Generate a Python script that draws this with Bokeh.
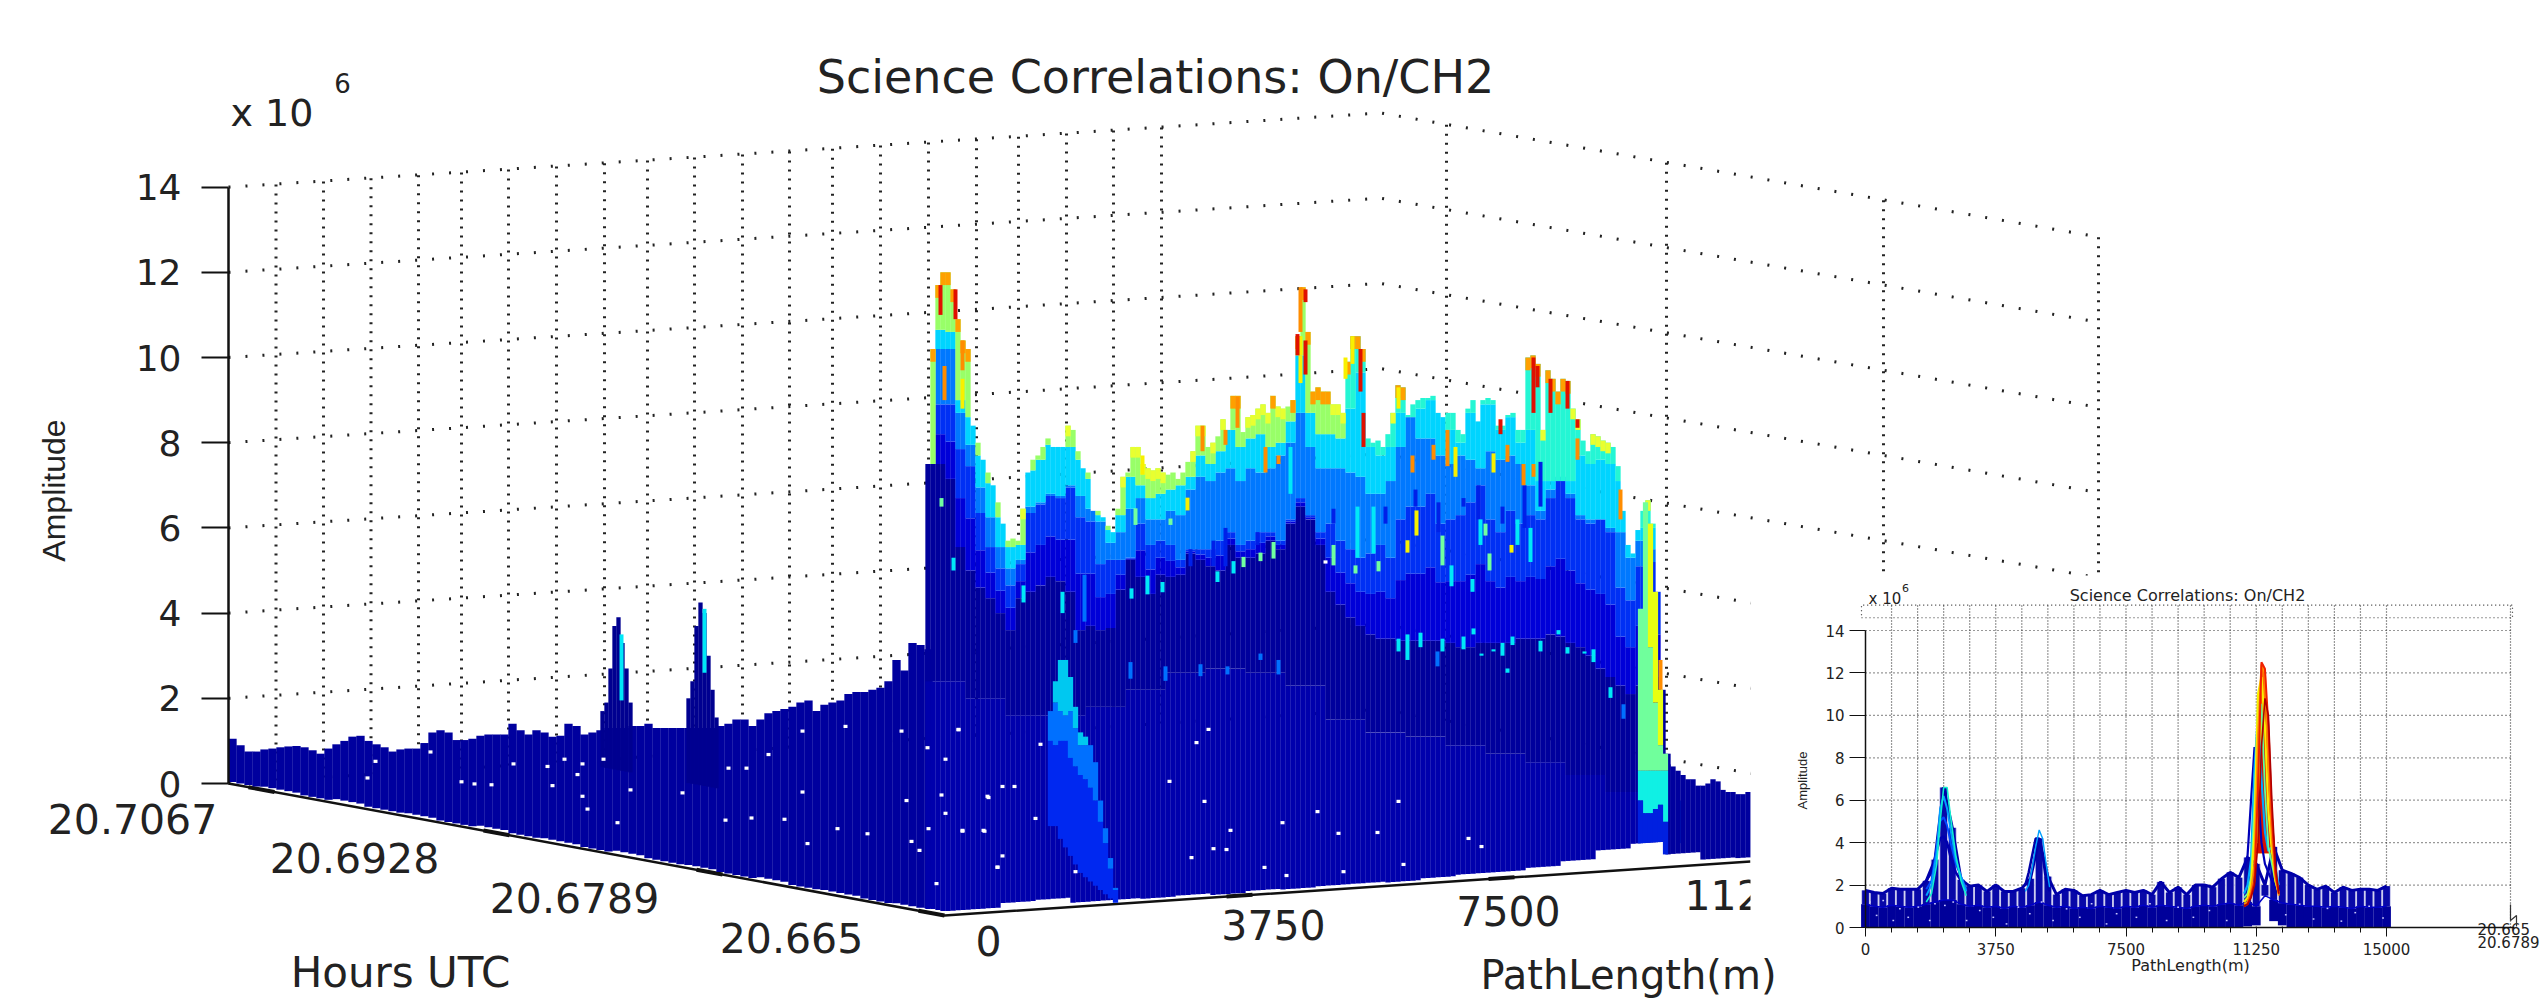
import numpy as np
from bokeh.plotting import figure
from bokeh.models import Range1d, LinearAxis, FixedTicker
from bokeh.core.properties import value
from bokeh.embed import file_html
from bokeh.resources import INLINE

# ---------- main panel: silhouettes read against the left amplitude axis (x 10^6)
amp_ticks = [0, 2, 4, 6, 8, 10, 12, 14]
hour_labels = ["20.7067", "20.6928", "20.6789", "20.665"]
path_labels = ["0", "3750", "7500", "11250"]

left_top = [1.05,0.9,0.75,0.75,0.8,0.82,0.85,0.87,0.88,0.85,0.78,0.7,0.82,0.92,1.0,1.1,1.12,1.0,0.92,0.85,0.75,0.8,0.82,0.82,0.95,1.2,1.25,1.2,1.02,1.02,1.05,1.12,1.15,1.15,1.15,1.4,1.25,1.15,1.25,1.2,1.1,1.12,1.4,1.35,1.15,1.2,1.25,1.3,1.3,1.3,1.35,1.35,1.4,1.3,1.3,1.3,1.3,1.3,1.3,1.3,1.3,1.35,1.4,1.5,1.5,1.35,1.5,1.65,1.7,1.75,1.8,1.9,1.95,1.7,1.85,1.9,1.95,2.1,2.15,2.15,2.2,2.25,2.4,2.9,2.65,3.3,3.25,3.15]
spike1_top = [1.7,1.9,2.7,3.7,3.9,3.3,2.7,1.9]
spike2_top = [2.0,2.4,3.7,4.25,4.0,3.0,2.2,1.55]

ridge_top = [7.5,10.2,11.7,12.0,12.0,11.6,10.9,10.4,10.2,8.4,8.0,7.6,7.3,7.0,6.6,6.1,5.7,5.75,5.7,6.45,7.3,7.6,7.7,7.9,8.1,7.9,7.9,7.9,8.4,8.3,7.8,7.4,7.3,6.4,6.4,6.25,6.05,5.9,6.45,7.2,7.3,7.9,7.9,7.5,7.4,7.35,7.4,7.3,7.25,7.3,7.15,7.3,7.55,7.8,8.4,8.4,7.9,8.0,8.15,8.55,8.3,9.1,9.1,8.25,8.6,8.65,8.8,8.9,8.7,9.1,8.85,8.8,8.85,9.0,10.5,11.65,10.6,9.2,9.3,9.2,9.2,8.9,8.9,8.7,9.9,10.5,10.5,10.2,8.1,8.0,8.05,7.9,8.2,8.7,9.35,9.3,8.65,8.9,9.0,9.05,9.05,9.1,8.7,8.6,8.7,8.7,8.3,8.2,8.8,9.0,8.5,9.0,9.05,9.0,8.4,8.4,8.65,8.7,8.3,8.3,10.0,10.05,9.85,8.3,9.7,9.5,9.2,9.5,9.45,8.8,8.55,8.05,7.8,8.2,8.15,8.05,8.0,7.9,7.45,6.4,5.6,5.4,5.95,6.4,6.65,6.1,4.5,2.2,0.7]

right_top = [0.45,0.4,0.3,0.2,0.1,0.1,-0.05,-0.05,0.0,0.1,0.05,-0.15,-0.2,-0.2,-0.25,-0.25,-0.2,-0.2]

band_navy = [7.5,7.5,7.15,5.55,5.0,4.6,4.35,4.0,3.6,4.35,4.5,4.65,4.85,4.75,4.5,3.6,3.7,3.6,3.65,4.55,5.25,4.85,4.45,4.9,4.85,4.9,5.4,5.25,5.1,5.0,5.6,5.3,5.3,5.4,5.7,5.5,6.1,6.5,6.2,5.6,4.5,4.2,3.9,3.7,3.5,3.4,3.4,3.35,3.35,3.35,3.35,3.35,3.3,3.2,3.2,3.3,3.3,3.3,3.3,3.4,3.4,3.4,3.5,3.45,3.3,3.2,3.0,2.7,2.5,2.3,2.1,2.3,2.5]
band_blue = [7.5,8.9,8.9,7.85,7.45,6.35,5.55,5.05,4.65,5.15,6.35,6.55,6.75,6.7,6.95,6.25,6.15,5.15,5.25,5.25,5.3,6.1,5.6,5.7,5.6,5.25,5.5,5.5,5.5,5.7,5.9,5.6,5.7,5.9,5.9,5.7,6.2,6.7,6.3,5.9,6.1,5.7,5.5,5.3,5.4,5.6,5.3,6.2,6.5,6.5,6.8,6.1,6.2,6.3,6.6,7.0,6.2,5.9,6.4,6.1,6.3,6.2,6.7,7.1,6.7,6.2,6.1,6.2,5.9,4.6,4.3,5.1,5.2]
band_azure = [7.5,10.2,10.2,8.7,7.95,6.95,6.25,5.55,5.05,5.25,6.5,6.6,6.8,6.75,7.0,6.75,6.45,6.15,5.65,5.9,6.45,6.7,6.2,6.2,6.4,6.3,6.9,7.2,7.1,7.3,7.4,7.1,7.4,7.3,7.4,7.7,8.0,8.7,7.9,7.4,7.4,7.4,7.3,7.2,6.8,6.8,7.1,7.9,8.6,8.1,8.1,7.7,7.5,7.7,7.6,7.4,7.8,7.6,7.7,7.5,7.0,6.4,6.9,7.2,6.8,6.3,6.2,6.2,6.0,5.9,5.3,5.7,5.5]
band_cyan = [7.5,10.65,10.6,9.0,8.6,7.7,7.05,6.25,5.55,5.6,7.35,7.6,7.95,7.9,7.9,7.6,7.15,6.3,5.95,6.3,7.2,7.0,6.7,6.8,6.9,7.0,7.2,7.7,7.5,7.8,8.3,7.9,8.1,8.2,7.9,8.0,8.5,10.05,8.7,8.2,8.2,8.1,8.8,9.65,7.9,7.7,7.9,8.7,8.6,8.8,9.0,8.7,8.3,8.0,8.7,8.9,8.9,8.3,8.6,8.0,8.3,7.1,7.1,7.1,7.1,7.7,7.5,7.6,7.5,7.1,5.9,6.0,6.0]
band_base = [2.4,2.0,1.6,1.6,1.8,2.2,2.6,2.7,2.6,2.3,1.5,1.2,1.1,0.9,0.7,0.5,0.2,-0.2,-0.6]

near_top = [4.1,6.6,6.1,4.5,2.2,0.7]
near_yellow_bottom = [4.1,6.6,3.2,1.9,0.9,0.7]
near_green_bottom = [0.3,0.3,0.3,0.3,0.3,0.3]
near_cyan_bottom = [-0.4,-0.7,-0.7,-0.6,-0.5,-0.9]

lump_top = [1.7,2.4,2.9,2.9,2.5,1.8,1.2,1.1,0.9,0.5,-0.4,-1.05,-1.75,-2.45]
lump_cyan_bottom = [1.7,1.9,1.7,1.6,1.7,1.3,0.9,0.9,0.9,0.5,-0.4,-1.05,-1.75,-2.45]
lump_azure_bottom = [1.0,0.9,1.0,1.0,0.6,0.4,0.2,0.1,-0.1,-0.4,-0.9,-1.4,-2.0,-2.5]
lump_blue_bottom = [-1.0,-1.0,-1.3,-1.5,-1.7,-1.9,-2.1,-2.2,-2.3,-2.4,-2.5,-2.6,-2.7,-2.8]

front_gap = [0.05,0.08,0.05,0.1,0.06,0.08,0.05,0.1,0.06,0.08,0.05,0.1,0.06,0.08,0.05,0.1,0.06,0.08,0.05,0.08,0.1,0.1,0.2,0.22,0.1,0.1,0.08,0.1,0.06,0.1,0.08,0.1,0.1,0.08,0.12,0.15,0.15,0.2,0.3,0.5,0.6,0.3,0.12,0.1]

speck_x = [802,845,901,958,927,945,768,564,582,603,513,547,577,728,746,367,461,474,491,552,630,682,582,802,941,906,987,587,945,725,751,784,617,837,867,928,962,984,807,911,919,997,936,430,375,958,1040,1002,1014,988,1035,962,983,1002,997,1075,1325,1208,1196,1169,1204,1282,1230,1213,1226,1191,1264,1286,1317,1398,1338,1377,1468,1481,1403,1343]
speck_amp = [1.23,1.34,1.23,1.26,0.84,0.57,0.68,0.57,0.46,0.57,0.46,0.4,0.21,0.36,0.36,0.13,0.04,-0.01,-0.03,-0.05,-0.15,-0.22,-0.3,-0.2,-0.27,-0.4,-0.3,-0.6,-0.7,-0.86,-0.81,-0.84,-0.92,-1.06,-1.18,-1.06,-1.12,-1.12,-1.41,-1.36,-1.57,-1.96,-2.35,0.74,0.52,1.27,0.92,-0.07,-0.07,-0.33,-0.82,-1.1,-1.1,-1.7,-1.97,-2.07,5.2,1.27,0.96,0.05,-0.42,-0.92,-1.1,-1.53,-1.55,-1.74,-1.97,-2.16,-0.66,-0.42,-1.17,-1.15,-1.29,-1.48,-1.9,-2.07]

red_x = [940,955,1297,1305,1305,1360,1363,1533,1550,1567,1577,1537,1500]
red_lo = [11.0,10.9,10.05,11.3,9.6,9.2,7.9,8.7,8.7,8.8,8.35,9.3,8.2]
red_hi = [11.7,11.6,10.55,11.6,10.4,10.2,8.7,10.0,9.5,9.45,8.55,9.8,8.55]
orange_x = [962,944,1300,1202,1225,1237,1265,1278,1412,1433,1447,1507,1523,1533,1577,1620,1660]
orange_lo = [9.7,9.0,10.6,7.8,7.95,8.35,7.3,7.5,7.3,7.6,7.45,7.55,7.0,7.2,7.6,6.2,2.2]
orange_hi = [10.4,9.8,11.65,8.4,8.3,9.08,7.9,7.7,7.7,7.95,8.3,7.95,7.5,7.5,8.1,6.9,2.9]
yellow_x = [962,1300,1352,1187,1142,1416,1455,1493,1407,1511,1300,1398,1345]
yellow_lo = [8.8,9.4,9.85,6.41,7.25,5.82,7.2,7.3,5.42,5.42,10.05,8.8,9.5]
yellow_hi = [9.5,10.05,10.5,6.71,7.7,6.41,7.9,7.75,5.71,5.6,10.5,9.3,10.0]
cyan_x = [1131,1147,1162,1217,1233,1451,1472,1398,1407,1420,1442,1463,1473,1481,1493,1502,1512,1507,1540,1558,1567,1584,1593,1610,953,1023,1062,621,704,1290,1373,1517,1530,1480,1357]
cyan_lo = [4.34,4.44,4.49,4.73,4.93,4.63,4.5,3.1,2.9,3.2,3.1,3.15,3.5,3.0,3.1,3.0,3.25,2.6,3.1,3.5,3.05,3.05,2.85,2.01,5.0,4.25,4.0,1.95,2.6,6.8,5.4,5.6,5.2,5.6,5.3]
cyan_hi = [4.58,4.88,4.73,4.98,5.22,5.12,4.8,3.4,3.5,3.54,3.4,3.45,3.64,3.05,3.15,3.3,3.45,2.7,3.35,3.6,3.2,3.1,3.15,2.26,5.3,4.65,4.5,3.5,4.1,7.9,6.5,6.2,6.0,6.2,6.5]
green_x = [1333,1355,1378,1442,1489,1243,1260,1273,941,1485,1170,1135]
green_lo = [5.12,4.93,4.98,5.12,5.0,5.08,5.22,5.28,6.5,5.82,6.07,6.07]
green_hi = [5.6,5.12,5.22,5.82,5.4,5.32,5.42,5.67,6.7,6.1,6.22,6.46]
azure_x = [1130,1165,1200,1227,1260,1278,1084,1075,1437,1623,1680]
azure_lo = [2.46,2.41,2.52,2.56,2.9,2.56,3.8,3.3,2.75,1.52,-1.4]
azure_hi = [2.85,2.75,2.8,2.75,3.05,2.9,4.9,3.6,3.1,1.86,-0.4]
deep_x = [1415,1463,1478,1502,1524,1333,1385,1438,1540,1225,1213,1190,1257]
deep_lo = [6.5,6.5,6.2,6.1,6.0,6.1,6.1,5.9,6.5,5.1,5.1,5.1,5.6]
deep_hi = [6.9,6.7,7.0,6.5,7.0,6.45,6.5,6.6,7.55,6.0,5.7,5.5,5.9]

# ---------- inset: profile against PathLength
inset_ticks = [0, 3750, 7500, 11250, 15000]
inset_top = [1.75,1.65,1.6,1.85,1.8,1.8,1.8,2.2,3.2,6.6,4.7,2.25,1.95,2.0,1.7,2.0,1.7,1.7,1.85,2.3,4.2,2.4,1.55,1.8,1.75,1.5,1.55,1.75,1.55,1.65,1.75,1.65,1.75,1.55,2.15,1.65,1.9,1.55,2.0,2.0,1.9,2.3,2.6,2.35,3.3,3.0,2.0,3.8,2.7,2.55,2.35,2.0,1.8,1.95,1.65,1.9,1.75,1.8,1.8,1.75,1.95]
inset_low = [1.1,1.0,0.95,1.05,1.0,0.95,1.0,1.1,1.2,1.3,1.3,1.1,1.0,1.05,0.95,1.0,0.9,1.0,0.95,1.05,1.2,1.05,0.95,1.0,0.9,0.95,0.9,1.0,0.95,0.9,1.0,0.95,1.05,0.95,1.05,1.0,0.95,0.9,1.0,1.05,1.0,1.1,1.15,1.05,1.2,1.0,1.5,1.3,1.15,1.1,1.05,1.0,1.0,0.95,1.0,0.95,0.9,1.0,0.95,0.95,1.0]
inset_bottom = [0]*44 + [0.05,0.1,1.5,0.3,0.1] + [0]*12
inset_speck_path = [125,320,510,800,990,1230,1520,1850,2000,2285,2525,2910,3290,3680,4060,4400,4730,5070,5400,5790,6170,6510,6940,7230,7800,8190,8670,9000,9440,9900,10400,12100,12500,12900,13300,13700,14100,14500,14900]
inset_speck_amp = [1.2,0.57,1.27,0.33,0.88,0.48,0.96,0.33,1.12,1.04,1.2,0.33,0.8,0.48,0.17,0.96,0.65,1.2,0.33,0.88,0.48,1.12,0.17,0.65,0.48,1.12,0.33,0.96,0.48,0.8,0.33,0.6,1.1,0.4,0.9,0.3,0.7,1.0,0.45]
p1_path = [1750,1900,2050,2150,2250,2350,2450,2600,2750,2900]
p1_navy = [2.2,2.6,3.6,4.2,4.3,4.0,3.3,2.6,2.2,1.8]
p1_blue = [1.8,2.2,3.8,5.0,5.2,4.8,4.0,3.0,2.4,1.8]
p1_azure = [1.5,2.0,3.5,5.6,6.2,5.6,4.6,3.2,2.4,1.7]
p1_cyan = [1.2,1.6,3.0,5.0,6.6,6.6,5.2,3.4,2.2,1.5]
p2_path = [4600,4700,4800,4900,5000,5100,5200,5300]
p2_navy = [2.0,2.6,3.4,4.2,4.2,3.4,2.2,1.7]
p2_azure = [1.7,2.0,2.8,3.8,4.6,4.2,3.0,1.9]
p3_path = [10900,11000,11100,11200,11300,11400,11500,11600,11700,11800,11900]
p3_navy = [2.8,3.4,6.0,8.5,6.5,4.0,3.0,2.6,2.2,1.9,1.7]
p3_azure = [1.6,2.0,3.2,7.5,10.0,7.0,4.5,3.6,3.8,2.8,2.0]
p3_green = [1.4,1.6,2.4,6.0,10.6,10.5,6.5,3.8,3.0,2.2,1.6]
p3_yellow = [1.2,1.4,2.0,4.5,11.0,11.8,9.5,5.5,3.6,2.2,1.6]
p3_orange = [1.1,1.2,1.7,3.0,9.0,12.4,12.0,7.5,4.2,2.4,1.5]
p3_red = [1.0,1.1,1.5,2.2,6.5,12.5,12.2,9.5,5.2,2.6,1.6]
p3_dark = [1.0,1.1,1.4,2.0,4.0,8.5,10.8,10.0,6.0,3.0,1.6]

# ---------- geometry of the page
W, H = 2545, 1000
PX = 42.6
def A(py):
    return (783 - py) / PX

p = figure(width=W, height=H, output_backend="svg", toolbar_location=None,
           x_axis_location=None, y_axis_location=None,
           x_range=Range1d(0, W), y_range=Range1d(A(H), A(0)),
           min_border=0, min_border_left=0, min_border_right=0, min_border_top=0, min_border_bottom=0,
           outline_line_color=None, background_fill_color="white")
p.grid.visible = False

K = 15000 / 521.0
IY = 297 / 14.0
p.extra_x_ranges = {"ix": Range1d((0 - 1865) * K, (W - 1865) * K)}
p.extra_y_ranges = {"iy": Range1d((927 - H) / IY, 927 / IY)}

INK = "#222222"
def txt(x, py, s, size, font="DejaVu Sans", align="center", angle=0, color=INK):
    p.text(x=[x], y=[A(py)], text=[s], text_font=value(font), text_font_size=value(size),
           text_align=align, text_baseline="middle", angle=angle, text_color=color)

# walls
def wall_y(a, x):
    return np.interp(x, [228, 1380, 2098], [a, a + 1.74, a - 1.17])

grid_x = [275.5,323,370.5,418,461,508,556,604,647,694,742,789,832,880,928,976,1018,1066,1113,1161,1446,1666,1883,2098]
p.multi_line(xs=[[228, 1380, 2098] for a in amp_ticks],
             ys=[[a, a + 1.74, a - 1.17] for a in amp_ticks],
             line_color="#222222", line_width=3, line_dash="2 15")
p.multi_line(xs=[[x, x] for x in grid_x],
             ys=[[float(wall_y(0, x)), float(wall_y(14, x))] for x in grid_x],
             line_color="#222222", line_width=3, line_dash="2 7")

# floor
def floor(x):
    return np.interp(x, [228, 944, 1750], [0, A(915), A(861)])

p.line(x=[228, 944, 1750], y=[0, A(915), A(861)], line_color="#111111", line_width=2.5)
tick_x = [260, 495, 708, 930, 1238, 1500]
p.multi_line(xs=[[x - 12, x + 14] for x in tick_x],
             ys=[[float(floor(x - 12)), float(floor(x + 14))] for x in tick_x],
             line_color="#111111", line_width=4)

def col_gap(x):
    i = np.clip(((np.asarray(x) - 228) // 35).astype(int), 0, len(front_gap) - 1)
    return np.asarray(front_gap)[i]

def bars(x, lo, hi, color, width=5.3):
    x = np.asarray(x, dtype=float)
    lo = np.asarray(lo, dtype=float)
    hi = np.asarray(hi, dtype=float)
    m = hi > lo
    p.vbar(x=x[m], width=width, bottom=lo[m], top=hi[m], fill_color=color, line_color=None)

# left run of the surface
lx = 228 + 4 + 8 * np.arange(len(left_top))
bars(lx, floor(lx) + col_gap(lx), left_top, "#00009e", width=8.3)
s1x = 602 + 4 * np.arange(len(spike1_top))
s2x = 688 + 4 * np.arange(len(spike2_top))
bars(s1x, floor(s1x) + 2.0, spike1_top, "#000090", width=4.3)
bars(s2x, floor(s2x) + 2.0, spike2_top, "#000090", width=4.3)

# the long ridge
rx = 925 + 2.5 + 5 * np.arange(len(ridge_top))
rt = np.asarray(ridge_top)
band = lambda arr: np.minimum(np.asarray(arr)[np.minimum(np.arange(len(rt)) // 2, len(arr) - 1)], rt)
base = np.minimum(np.asarray(band_base)[np.minimum(np.arange(len(rt)) // 8, len(band_base) - 1)], rt)
bn, bb, ba, bc = band(band_navy), band(band_blue), band(band_azure), band(band_cyan)
mid = (bn + bb) / 2
bot = floor(rx) + col_gap(rx)
bars(rx, bot, base, "#0000ac")
bars(rx, base, bn, "#00009c")
bars(rx, bn, mid, "#0000d8")
bars(rx, mid, bb, "#0030f4")
bars(rx, bb, ba, "#0078ff")
bars(rx, ba, bc, "#00d4ff")
left_side = rx < 1345
bars(rx[left_side], bc[left_side], rt[left_side], "#98ff68")
bars(rx[~left_side], bc[~left_side], rt[~left_side], "#24f6d4")
# tips of the columns
tip_on = rt > bc + 0.4
tips_y = tip_on & (rt < 9.0)
tips_o = tip_on & (rt >= 9.0)
bars(rx[tips_y], rt[tips_y] - 0.25, rt[tips_y], "#e8ff30")
bars(rx[tips_o], rt[tips_o] - 0.3, rt[tips_o], "#ffa000")

# streaks inside the ridge
for xs_, lo_, hi_, c_ in [(azure_x, azure_lo, azure_hi, "#0070ff"),
                          (deep_x, deep_lo, deep_hi, "#0020e8"),
                          (cyan_x, cyan_lo, cyan_hi, "#00e8f8"),
                          (green_x, green_lo, green_hi, "#70ffa0"),
                          (yellow_x, yellow_lo, yellow_hi, "#f8f000"),
                          (orange_x, orange_lo, orange_hi, "#ff8c00"),
                          (red_x, red_lo, red_hi, "#e01000")]:
    bars(xs_, lo_, hi_, c_, width=4)

# right run behind the near end
nx = 1667.5 + 5 * np.arange(len(right_top))
bars(nx, floor(nx) + col_gap(nx), right_top, "#00009e")

# near end of the ridge
wx = 1640 + 5 * np.arange(len(near_top))
bars(wx, near_cyan_bottom, near_green_bottom, "#10f0e4", width=5.2)
bars(wx, near_green_bottom, near_yellow_bottom, "#70ff9c", width=5.2)
bars(wx, near_yellow_bottom, near_top, "#e8ff10", width=5.2)
p.vbar(x=wx, width=5.2, bottom=floor(wx) + col_gap(wx), top=near_cyan_bottom, fill_color="#0020e0", line_color=None)

# front lump
mx = 1050 + 5 * np.arange(len(lump_top))
bars(mx, lump_blue_bottom, lump_azure_bottom, "#0028f0")
bars(mx, lump_azure_bottom, lump_cyan_bottom, "#0070ff")
bars(mx, lump_cyan_bottom, lump_top, "#00c8f0")

# white pin holes
p.rect(x=speck_x, y=speck_amp, width=4, height=3.2 / PX, fill_color="white", line_color=None)

# main amplitude axis
main_axis = LinearAxis(fixed_location=228, bounds=(0, 14), ticker=FixedTicker(ticks=amp_ticks),
                       axis_line_color="#111111", axis_line_width=2.5,
                       major_tick_line_color="#111111", major_tick_line_width=2,
                       major_tick_out=27, major_tick_in=0, minor_tick_out=0, minor_tick_in=0,
                       major_label_standoff=20, major_label_text_font="DejaVu Sans",
                       major_label_text_font_size="36px", major_label_text_color=INK)
p.add_layout(main_axis, "left")

txt(132, 818, hour_labels[0], "41px")
txt(354, 857, hour_labels[1], "41px")
txt(574, 897, hour_labels[2], "41px")
txt(791, 937, hour_labels[3], "41px")
txt(400, 972, "Hours UTC", "42px")
txt(988, 940, path_labels[0], "41px")
txt(1273, 924, path_labels[1], "41px")
txt(1508, 910, path_labels[2], "41px")
txt(1684, 894, path_labels[3], "41px", align="left")
txt(1155, 76, "Science Correlations: On/CH2", "46px")
txt(230, 112, "x 10", "38px", align="left")
txt(342, 82, "6", "26px")
txt(53, 490, "Amplitude", "32px", font="Liberation Sans", angle=np.pi / 2)

# inset page
p.quad(left=[1750], right=[W], top=[A(575)], bottom=[A(955)], fill_color="white", line_color=None)
txt(1628, 974, "PathLength(m)", "40px")

ir = dict(x_range_name="ix", y_range_name="iy")
ip = 250 * np.arange(len(inset_top))
gv = [750 * i for i in range(1, 21)] + [(2510 - 1865) * K]
p.multi_line(xs=[[x, x] for x in gv], ys=[[0, 15.2] for x in gv], line_color="#333333",
             line_width=1.2, line_dash="1 2", **ir)
gh = amp_ticks[1:]
p.multi_line(xs=[[0, (2512 - 1865) * K] for a in gh], ys=[[a, a] for a in gh], line_color="#333333",
             line_width=1.2, line_dash="1 3", **ir)
bx = [(1861 - 1865) * K, (2512 - 1865) * K, (2512 - 1865) * K, (1861 - 1865) * K, (1861 - 1865) * K]
p.line(x=bx, y=[14.6, 14.6, 15.2, 15.2, 14.6], line_color="#333333", line_width=1.2, line_dash="1 3", **ir)

low = np.maximum(inset_low, inset_bottom)
p.vbar(x=ip, width=250, bottom=low, top=inset_top, fill_color="#c4c4ec", line_color=None, **ir)
p.vbar(x=ip, width=195, bottom=low, top=inset_top, fill_color="#0808a8", line_color=None, **ir)
p.vbar(x=ip, width=254, bottom=inset_bottom, top=low, fill_color="#00009a", line_color=None, **ir)
p.line(x=ip, y=inset_top, line_color="#0000a8", line_width=3, **ir)
p.line(x=ip, y=inset_low, line_color="#0000c8", line_width=1.5, **ir)
p.rect(x=inset_speck_path, y=inset_speck_amp, width=50, height=0.07, fill_color="#c8c8ff", line_color=None, **ir)

p.varea(x=p3_path, y1=[3.5] * len(p3_path), y2=np.maximum(p3_orange, 3.5), fill_color="#ff7000", **ir)
p.varea(x=p3_path, y1=[3.5] * len(p3_path), y2=np.maximum(p3_green, 3.5), fill_color="#f8e800", **ir)
p.varea(x=p3_path, y1=[3.5] * len(p3_path), y2=np.maximum(p3_dark, 3.5), fill_color="#d81000", **ir)
for xs_, ys_, c_, lw_ in [(p1_path, p1_navy, "#0000b0", 2.5), (p1_path, p1_blue, "#0048ff", 2),
                          (p1_path, p1_azure, "#00a0ff", 2), (p1_path, p1_cyan, "#10f0d0", 1.6),
                          (p2_path, p2_navy, "#0000a8", 2.5), (p2_path, p2_azure, "#00a0ff", 1.4),
                          (p3_path, p3_navy, "#0000b8", 2.2), (p3_path, p3_azure, "#00a8ff", 2.2),
                          (p3_path, p3_green, "#60ffa0", 1.8), (p3_path, p3_yellow, "#f8f000", 2.2),
                          (p3_path, p3_orange, "#ff9000", 2), (p3_path, p3_red, "#f02000", 2),
                          (p3_path, p3_dark, "#b00000", 1.6)]:
    p.line(x=xs_, y=ys_, line_color=c_, line_width=lw_, **ir)

ax_common = dict(x_range_name="ix", y_range_name="iy", axis_line_color="#111111", axis_line_width=1.5,
                 major_tick_line_color="#111111", minor_tick_line_color="#111111",
                 major_label_text_font="DejaVu Sans", major_label_text_font_size="15px",
                 major_label_text_color=INK, major_tick_in=0, minor_tick_in=0)
ixa = LinearAxis(fixed_location=0, bounds=(0, (2514 - 1865) * K),
                 ticker=FixedTicker(ticks=inset_ticks, minor_ticks=[750 * i for i in range(1, 21)]),
                 major_tick_out=9, minor_tick_out=5, major_label_standoff=6, **ax_common)
p.add_layout(ixa, "below")
iya = LinearAxis(fixed_location=0, bounds=(0, 14), ticker=FixedTicker(ticks=amp_ticks),
                 major_tick_out=16, minor_tick_out=0, major_label_standoff=5, **ax_common)
p.add_layout(iya, "left")

txt(2187, 595, "Science Correlations: On/CH2", "16px")
txt(1868, 598, "x 10", "15px", align="left")
txt(1905, 587, "6", "11px")
txt(1802, 780, "Amplitude", "13px", font="Liberation Sans", angle=np.pi / 2)
txt(2190, 965, "PathLength(m)", "16px")
txt(2477, 928, "20.665", "15px", align="left")
txt(2477, 941, "20.6789", "15px", align="left")
p.line(x=[2510, 2510, 2516, 2516], y=[A(904), A(920), A(915), A(926)], line_color="#333333", line_width=1.2)

open("out.html", "w").write(file_html(p, INLINE))
